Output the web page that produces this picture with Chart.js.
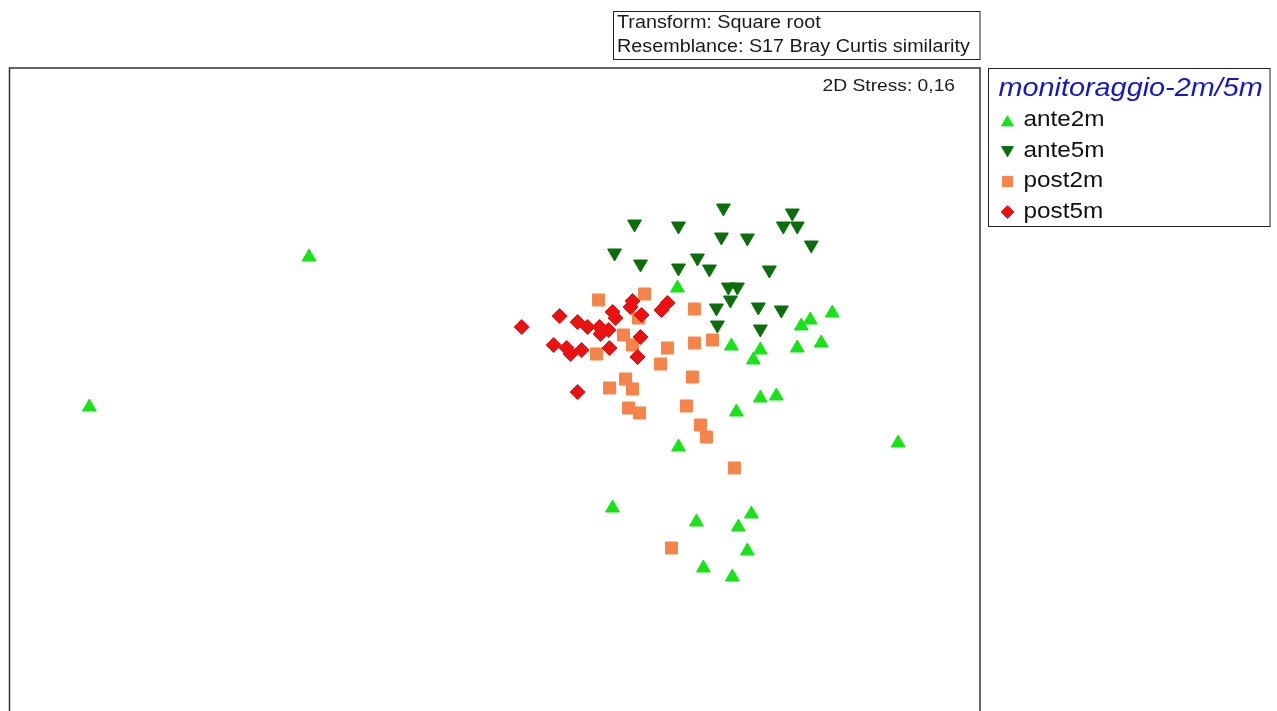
<!DOCTYPE html>
<html>
<head>
<meta charset="utf-8">
<script src="https://cdn.jsdelivr.net/npm/chart.js@4/dist/chart.umd.min.js"></script>
<style>
  html, body { margin: 0; padding: 0; background: #fff; overflow: hidden; }
  #wrap { position: absolute; left: 0; top: 0; width: 1277px; height: 740px; }
</style>
</head>
<body>
<div id="wrap"><canvas id="mds" width="1277" height="740"></canvas></div>
<script>
// nMDS ordination, one [x, y] pair per sample
var ante2m = [
  [-2.92, 1.43], [-5.12, -0.07], [0.77, 1.12], [2.32, 0.87], [2.10, 0.80],
  [2.01, 0.74], [1.31, 0.54], [1.60, 0.50], [1.53, 0.40], [1.97, 0.52],
  [2.21, 0.57], [1.60, 0.02], [1.76, 0.04], [1.36, -0.12], [2.98, -0.43],
  [0.78, -0.47], [0.12, -1.08], [1.51, -1.14], [0.96, -1.22], [1.38, -1.27],
  [1.47, -1.51], [1.03, -1.68], [1.32, -1.77]
];
var ante5m = [
  [0.34, 1.76], [0.78, 1.74], [1.23, 1.92], [1.92, 1.87], [1.83, 1.74],
  [1.97, 1.74], [1.21, 1.63], [1.47, 1.62], [2.11, 1.55], [0.14, 1.47],
  [0.40, 1.36], [0.97, 1.42], [0.78, 1.32], [1.09, 1.31], [1.69, 1.30],
  [1.28, 1.13], [1.37, 1.13], [1.30, 1.00], [1.16, 0.92], [1.58, 0.93],
  [1.81, 0.90], [1.17, 0.75], [1.60, 0.71]
];
var post2m = [
  [-0.02, 1.00], [0.44, 1.06], [0.38, 0.82], [0.94, 0.91], [0.23, 0.65],
  [0.32, 0.55], [-0.04, 0.46], [0.67, 0.52], [0.94, 0.57], [1.12, 0.60],
  [0.60, 0.36], [0.92, 0.23], [0.25, 0.21], [0.09, 0.12], [0.32, 0.11],
  [0.28, -0.08], [0.39, -0.13], [0.86, -0.06], [1.00, -0.25], [1.06, -0.37],
  [1.34, -0.68], [0.71, -1.48]
];
var post5m = [
  [-0.79, 0.73], [-0.41, 0.84], [-0.23, 0.78], [-0.13, 0.73], [-0.01, 0.73],
  [0.08, 0.70], [0.00, 0.66], [0.12, 0.88], [0.15, 0.82], [0.32, 0.99],
  [0.30, 0.93], [0.41, 0.85], [0.61, 0.90], [0.67, 0.97], [-0.47, 0.55],
  [-0.34, 0.52], [-0.30, 0.46], [-0.19, 0.50], [0.09, 0.52], [0.40, 0.63],
  [0.37, 0.43], [-0.23, 0.08]
];

var groupNames = ["ante2m", "ante5m", "post2m", "post5m"];
var legendTitle = "monitoraggio-2m/5m";
var stressText = "2D Stress: 0,16";
var infoLines = ["Transform: Square root", "Resemblance: S17 Bray Curtis similarity"];

function pts(arr) {
  return arr.map(function (p) { return { x: p[0], y: p[1] }; });
}

var styles = {
  ante2m: { color: '#17e317', pointStyle: 'triangle', rotation: 0, radius: 8 },
  ante5m: { color: '#0b6e0b', pointStyle: 'triangle', rotation: 180, radius: 8 },
  post2m: { color: '#f5844a', pointStyle: 'rect', rotation: 0, radius: 8.5 },
  post5m: { color: '#ec1111', pointStyle: 'rectRot', rotation: 0, radius: 7.5 }
};
var values = { ante2m: ante2m, ante5m: ante5m, post2m: post2m, post5m: post5m };

var datasets = groupNames.map(function (name, i) {
  var s = styles[name];
  return {
    label: name,
    data: pts(values[name]),
    backgroundColor: s.color,
    borderColor: s.color,
    borderWidth: 1,
    pointStyle: s.pointStyle,
    rotation: s.rotation,
    pointRadius: s.radius,
    order: groupNames.length - i
  };
});

// the lettering is a little wider than plain Arial
var STRETCH = 1.13;
function stretchedText(ctx, txt, x, y, align) {
  ctx.save();
  ctx.translate(x, y);
  ctx.scale(STRETCH, 1);
  ctx.textAlign = align || 'left';
  ctx.fillText(txt, 0, 0);
  ctx.restore();
}

var boxes = {
  id: 'boxes',
  afterDraw: function (chart) {
    var ctx = chart.ctx;
    var a = chart.chartArea;
    var font = '"Liberation Sans", Arial, sans-serif';
    ctx.save();

    // plot frame
    ctx.strokeStyle = '#333';
    ctx.lineWidth = 1.5;
    ctx.strokeRect(a.left, a.top, a.right - a.left, a.bottom - a.top);

    ctx.fillStyle = '#1a1a1a';
    ctx.textBaseline = 'middle';
    ctx.font = '17px ' + font;
    stretchedText(ctx, stressText, a.right - 25, a.top + 18, 'right');

    // transform / resemblance box
    ctx.lineWidth = 1;
    ctx.strokeStyle = '#222';
    ctx.strokeRect(613.5, 11.5, a.right - 613.5, 48);
    ctx.font = '17.5px ' + font;
    stretchedText(ctx, infoLines[0], 617, 23);
    stretchedText(ctx, infoLines[1], 617, 47);

    // legend
    var lx = a.right + 8.5, ly = a.top + 0.5;
    ctx.strokeRect(lx, ly, 1270 - lx, 158);
    ctx.fillStyle = '#1515c8';
    ctx.font = 'italic 25.5px ' + font;
    stretchedText(ctx, legendTitle, lx + 10, ly + 20);

    ctx.font = '21.5px ' + font;
    groupNames.forEach(function (name, i) {
      var s = styles[name];
      var y = ly + 52 + i * 30.5;
      ctx.fillStyle = s.color;
      ctx.strokeStyle = s.color;
      Chart.helpers.drawPoint(ctx, {
        pointStyle: s.pointStyle,
        rotation: s.rotation,
        radius: s.radius * 0.85,
        borderWidth: 1
      }, lx + 19, y + (s.pointStyle === 'triangle' ? (s.rotation ? -1 : 2) : 0));
      ctx.fillStyle = '#111';
      stretchedText(ctx, name, lx + 35, y);
    });
    ctx.restore();
  }
};

new Chart(document.getElementById('mds'), {
  type: 'scatter',
  data: { datasets: datasets },
  options: {
    responsive: false,
    animation: false,
    events: [],
    layout: { padding: { left: 8, top: 68, right: 297, bottom: 15 } },
    scales: {
      x: { display: false, min: -5.92, max: 3.80 },
      y: { display: false, min: -3.25, max: 3.32 }
    },
    plugins: {
      legend: { display: false },
      title: { display: false },
      tooltip: { enabled: false }
    }
  },
  plugins: [boxes]
});
</script>
</body>
</html>
